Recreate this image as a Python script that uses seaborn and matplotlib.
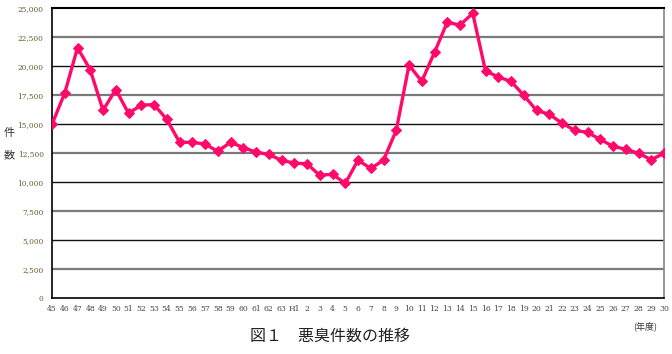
import matplotlib
matplotlib.use("Agg")
import matplotlib.pyplot as plt
import seaborn as sns
import pandas as pd
import numpy as np

years = ["45", "46", "47", "48", "49", "50", "51", "52", "53", "54", "55", "56",
         "57", "58", "59", "60", "61", "62", "63", "H1", "2", "3", "4", "5", "6",
         "7", "8", "9", "10", "11", "12", "13", "14", "15", "16", "17", "18", "19",
         "20", "21", "22", "23", "24", "25", "26", "27", "28", "29", "30"]
counts = [15000, 17700, 21600, 19700, 16200, 18000, 15950, 16650, 16700, 15430,
          13450, 13450, 13300, 12670, 13450, 13000, 12600, 12400, 11900, 11650,
          11600, 10600, 10700, 9900, 11900, 11200, 11900, 14480, 20100, 18700,
          21200, 23800, 23550, 24570, 19600, 19080, 18700, 17500, 16200, 15860,
          15100, 14480, 14300, 13700, 13100, 12850, 12500, 11950, 12500]
yticks = [0, 2500, 5000, 7500, 10000, 12500, 15000, 17500, 20000, 22500, 25000]

df = pd.DataFrame({"pos": np.arange(len(years)), "year": years, "count": counts})

sns.set_style("white")
plt.rcParams["font.family"] = ["Noto Sans CJK JP", "DejaVu Sans"]

fig = plt.figure(figsize=(6.72, 3.54), dpi=100)
ax = fig.add_axes([52 / 672, 1 - 298.3 / 354, 612 / 672, 290 / 354])

for i, v in enumerate(yticks[1:-1]):
    if i % 2 == 0:
        ax.axhline(v, color="#7a7a7a", lw=1.6, zorder=1)
    else:
        ax.axhline(v, color="#111111", lw=1.0, zorder=1)

sns.lineplot(data=df, x="pos", y="count", ax=ax, color="#ff0a6a", lw=2.4,
             marker="D", markersize=5, markeredgecolor="#ff0a6a", zorder=3)

ax.set_xlim(0, len(years) - 1)
ax.set_ylim(0, 25000)
ax.set_xticks(df["pos"])
ax.set_xticklabels(years, fontsize=5.5, family="DejaVu Serif", color="#444444")
ax.set_yticks(yticks)
ax.set_yticklabels([f"{v:,}" for v in yticks], fontsize=5.3,
                   family="DejaVu Serif", color="#6b5a2a")
ax.tick_params(axis="x", length=3, width=0.8, color="black", pad=2, direction="out")
ax.tick_params(axis="y", length=0, pad=6)
ax.set_xlabel("")
ax.set_ylabel("")

for side in ["left", "bottom", "top"]:
    ax.spines[side].set_color("black")
    ax.spines[side].set_linewidth(1.2)
ax.spines["right"].set_color("#888888")
ax.spines["right"].set_linewidth(1.2)
ax.spines["top"].set_linewidth(1.5)

fig.text(9 / 672, 1 - 133 / 354, "件", fontsize=8, ha="center", va="center", color="#333333")
fig.text(9 / 672, 1 - 155 / 354, "数", fontsize=8, ha="center", va="center", color="#333333")
fig.text(645 / 672, 1 - 326 / 354, "(年度)", fontsize=6.5, ha="center", va="center", color="#333333")
fig.text(330 / 672, 1 - 336 / 354, "図１　悪臭件数の推移", fontsize=11.5, ha="center", va="center", color="#222222")

fig.savefig("out.png", dpi=100, facecolor="white")
